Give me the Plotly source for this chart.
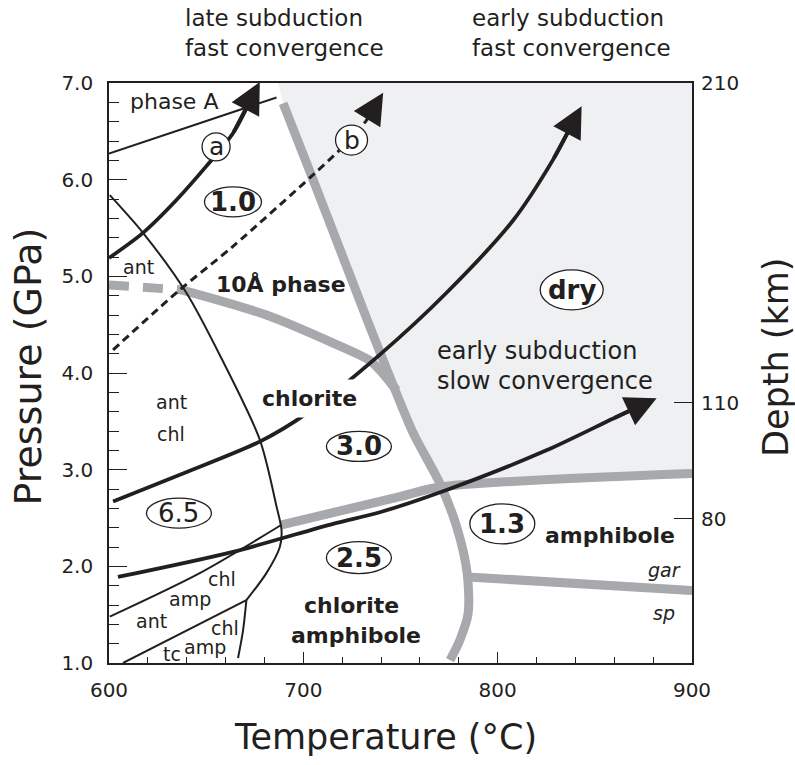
import plotly.graph_objects as go

# ---------------- data ----------------
x_ticks = [600, 700, 800, 900]
y_ticks = [1.0, 2.0, 3.0, 4.0, 5.0, 6.0, 7.0]
depth_tick_P = [7.0, 3.69, 2.49]
depth_tick_text = ["210", "110", "80"]

# thin black phase boundaries
phaseA_T = [600.0, 686.2]
phaseA_P = [6.27, 6.85]
antchl_T = [600.4, 617.5, 639.8, 657.9, 677.6, 686.2, 688.8, 687.9, 681.0, 670.7]
antchl_P = [5.84, 5.45, 4.83, 4.15, 3.31, 2.62, 2.37, 2.20, 1.93, 1.65]
vert_T = [670.7, 669.0, 666.4]
vert_P = [1.65, 1.34, 1.05]
tc_T = [607.2, 670.7]
tc_P = [1.00, 1.65]
amp_T = [600.4, 646.7, 688.8]
amp_P = [1.48, 1.93, 2.43]

# thick grey boundaries
g10A_dash_T = [600.0, 637.3]
g10A_dash_P = [4.91, 4.86]
g10A_T = [637.3, 681.0, 715.3, 734.2, 739.4, 748.0]
g10A_P = [4.86, 4.60, 4.31, 4.13, 4.03, 3.82]
gdry_T = [689.6, 705.0, 734.2, 744.5, 756.5, 770.2, 778.9, 784.3, 784.8, 780.6, 775.5]
gdry_P = [6.79, 6.00, 4.48, 3.96, 3.38, 2.86, 2.41, 1.93, 1.51, 1.24, 1.03]
gchl_T = [688.8, 749.7, 770.2, 900.0]
gchl_P = [2.43, 2.72, 2.82, 2.96]
ggar_T = [784.8, 900.0]
ggar_P = [1.89, 1.75]

# dry field (shaded)
dry_T = [686.9, 900.0, 900.0, 770.2, 756.5, 744.5, 734.2, 705.0, 689.6]
dry_P = [7.00, 7.00, 2.96, 2.84, 3.38, 3.96, 4.48, 6.00, 6.79]

# P-T paths (last point = arrow tip)
pathA_T = [600.0, 617.5, 634.7, 650.1, 663.8, 677.6]
pathA_P = [5.19, 5.45, 5.79, 6.14, 6.48, 7.01]
pathB_T = [602.1, 636.4, 663.8, 705.0, 718.8, 732.0, 741.1]
pathB_P = [4.24, 4.86, 5.31, 6.05, 6.31, 6.60, 6.90]
pathC_T = [602.1, 638.1, 677.6, 701.6, 739.4, 773.7, 808.0, 828.6, 843.2]
pathC_P = [2.67, 2.96, 3.29, 3.58, 4.19, 4.83, 5.58, 6.21, 6.76]
pathD_T = [604.6, 663.8, 715.3, 739.4, 773.7, 825.1, 859.5, 881.8]
pathD_P = [1.89, 2.15, 2.44, 2.56, 2.79, 3.20, 3.53, 3.74]

# labels
small_lbl = ["ant", "ant", "chl", "chl", "amp", "ant", "chl", "amp", "tc"]
small_T = [615.3, 632.1, 632.1, 657.9, 641.5, 621.8, 659.6, 649.3, 632.5]
small_P = [5.10, 3.70, 3.37, 1.87, 1.66, 1.43, 1.36, 1.17, 1.09]

bold_lbl = ["10Å phase", "amphibole", "chlorite", "amphibole"]
bold_T = [688.3, 857.7, 724.7, 727.3]
bold_P = [4.92, 2.32, 1.59, 1.28]

chl_lbl = "chlorite"
chl_T, chl_P = 703.3, 3.74

ell_lbl = ["1.0", "3.0", "6.5", "2.5", "1.3", "dry"]
ell_T = [663.8, 728.6, 636.0, 728.6, 802.4, 838.1]
ell_P = [5.77, 3.24, 2.55, 2.09, 2.44, 4.86]
ell_bold = [True, True, False, True, True, True]

circ_lbl = ["a", "b"]
circ_T = [655.1, 724.8]
circ_P = [6.34, 6.41]

ital_lbl = ["gar", "sp"]
ital_T = [885.6, 885.6]
ital_P = [1.96, 1.52]

phaseA_lbl, phaseA_lT, phaseA_lP = "phase A", 633.4, 6.81
slow_lbl = ["early subduction", "slow convergence"]
slow_T = 767.7
slow_P = [4.23, 3.92]

top_left = "late subduction<br>fast convergence"
top_right = "early subduction<br>fast convergence"

# ---------------- style ----------------
INK = "#231f20"
GREY = "#a7a9ac"
SHADE = "#eef0f2"
FONT = "DejaVu Sans"
ell_w = [57, 65, 65, 65, 65, 63]
ell_h = [30, 30, 30, 32, 40, 40]
circ_w = [28, 32]
circ_h = [28, 30]
THICK, THIN, DASHW, GW = 3.8, 2.0, 3.0, 9
HEAD = 6.2          # arrow-head scale (pixels per head unit)

fig = go.Figure()


def add_line(T, P, color, width, dash="solid", shape="spline"):
    fig.add_trace(go.Scatter(x=T, y=P, mode="lines",
                             line=dict(color=color, width=width, dash=dash,
                                       shape=shape, smoothing=0.8),
                             hoverinfo="skip", showlegend=False))


def shorten(T, P, frac=0.3):
    """path ending a little before its tip, so the arrow head hides the end"""
    t_end = T[-1] - frac * (T[-1] - T[-2])
    p_end = P[-1] - frac * (P[-1] - P[-2])
    return T[:-1] + [t_end], P[:-1] + [p_end]


# shaded dry field
fig.add_trace(go.Scatter(x=dry_T, y=dry_P, mode="lines", fill="toself",
                         fillcolor=SHADE, line=dict(width=0, color=SHADE),
                         hoverinfo="skip", showlegend=False))

# grey boundaries
add_line(g10A_dash_T, g10A_dash_P, GREY, GW, dash="20px,14px", shape="linear")
add_line(g10A_T, g10A_P, GREY, GW)
add_line(gdry_T, gdry_P, GREY, GW)
add_line(gchl_T, gchl_P, GREY, GW)
add_line(ggar_T, ggar_P, GREY, GW, shape="linear")

# thin black boundaries
add_line(phaseA_T, phaseA_P, INK, THIN, shape="linear")
add_line(antchl_T, antchl_P, INK, THIN)
add_line(vert_T, vert_P, INK, THIN)
add_line(tc_T, tc_P, INK, THIN, shape="linear")
add_line(amp_T, amp_P, INK, THIN)

# P-T paths
for T, P, w, dash in [(pathA_T, pathA_P, THICK, "solid"),
                      (pathB_T, pathB_P, DASHW, "8px,5px"),
                      (pathC_T, pathC_P, THICK, "solid"),
                      (pathD_T, pathD_P, THICK, "solid")]:
    tt, pp = shorten(T, P)
    add_line(tt, pp, INK, w, dash=dash)

# dummy trace to register the depth axis
fig.add_trace(go.Scatter(x=[None], y=[None], yaxis="y2", showlegend=False,
                         hoverinfo="skip"))

annotations = []
for T, P, w in [(pathA_T, pathA_P, THICK), (pathB_T, pathB_P, DASHW),
                (pathC_T, pathC_P, THICK), (pathD_T, pathD_P, THICK)]:
    annotations.append(dict(x=T[-1], y=P[-1], ax=T[-2], ay=P[-2],
                            xref="x", yref="y", axref="x", ayref="y",
                            text="", showarrow=True, arrowhead=2,
                            arrowsize=HEAD / w, arrowwidth=w, arrowcolor=INK))

shapes = []
for t, p, w, h in zip(ell_T + circ_T, ell_P + circ_P, ell_w + circ_w, ell_h + circ_h):
    shapes.append(dict(type="circle", xref="x", yref="y",
                       xsizemode="pixel", ysizemode="pixel",
                       xanchor=t, yanchor=p, x0=-w / 2, x1=w / 2,
                       y0=-h / 2, y1=h / 2,
                       line=dict(color=INK, width=1.3), fillcolor="white",
                       layer="above"))


def txt(text, x, y, size, bold=False, italic=False, **kw):
    s = text
    if bold:
        s = "<b>" + s + "</b>"
    if italic:
        s = "<i>" + s + "</i>"
    d = dict(x=x, y=y, xref="x", yref="y", text=s, showarrow=False,
             font=dict(family=FONT, size=size, color=INK))
    d.update(kw)
    annotations.append(d)


for t, x, y in zip(small_lbl, small_T, small_P):
    txt(t, x, y, 19)
for t, x, y in zip(bold_lbl, bold_T, bold_P):
    txt(t, x, y, 22, bold=True)
txt(chl_lbl, chl_T, chl_P, 22, bold=True, bgcolor="white", borderpad=6)
for t, x, y, b in zip(ell_lbl, ell_T, ell_P, ell_bold):
    txt(t, x, y, 26, bold=b)
for t, x, y in zip(circ_lbl, circ_T, circ_P):
    txt(t, x, y, 25)
for t, x, y in zip(ital_lbl, ital_T, ital_P):
    txt(t, x, y, 19, italic=True)
txt(phaseA_lbl, phaseA_lT, phaseA_lP, 22)
for t, y in zip(slow_lbl, slow_P):
    txt(t, slow_T, y, 24, xanchor="left")


# top captions and axis titles (paper coordinates)
def ptxt(text, x, y, size, **kw):
    d = dict(x=x, y=y, xref="paper", yref="paper", text=text, showarrow=False,
             font=dict(family=FONT, size=size, color=INK))
    d.update(kw)
    annotations.append(d)


ptxt(top_left, 0.127, 1, 23, xanchor="left", yanchor="middle", yshift=50,
     align="left")
ptxt(top_right, 0.619, 1, 23, xanchor="left", yanchor="middle", yshift=50,
     align="left")
ptxt("Temperature (°C)", 0.475, 0, 35, yanchor="middle", yshift=-74)
ptxt("Pressure (GPa)", 0, 0.511, 38, textangle=-90, xanchor="center",
     yanchor="middle", xshift=-81)
ptxt("Depth (km)", 1, 0.526, 35, textangle=-90, xanchor="center",
     yanchor="middle", xshift=84)

fig.update_layout(
    width=795, height=765,
    margin=dict(l=109, r=103, t=83, b=102),
    paper_bgcolor="white", plot_bgcolor="white",
    showlegend=False,
    font=dict(family=FONT, color=INK),
    xaxis=dict(range=[600, 900], tickvals=x_ticks, ticks="inside", ticklen=11,
               tickwidth=1.4, tickcolor=INK, showline=True, linecolor=INK,
               linewidth=1.6, mirror=True, showgrid=False, zeroline=False,
               tickfont=dict(family=FONT, size=20, color=INK),
               ticklabelstandoff=8,
               minor=dict(dtick=20, ticks="inside", ticklen=6, tickwidth=1.3,
                          tickcolor=INK, showgrid=False)),
    yaxis=dict(range=[1, 7], tickvals=y_ticks, tickformat=".1f",
               ticks="inside", ticklen=18, tickwidth=1.4, tickcolor=INK,
               showline=True, linecolor=INK, linewidth=1.6, mirror=True,
               showgrid=False, zeroline=False,
               tickfont=dict(family=FONT, size=20, color=INK),
               ticklabelstandoff=10,
               minor=dict(dtick=0.2, ticks="inside", ticklen=10, tickwidth=1.3,
                          tickcolor=INK, showgrid=False)),
    yaxis2=dict(range=[1, 7], overlaying="y", side="right",
                tickvals=depth_tick_P, ticktext=depth_tick_text,
                ticks="inside", ticklen=18, tickwidth=1.4, tickcolor=INK,
                showline=False, showgrid=False, zeroline=False,
                tickfont=dict(family=FONT, size=20, color=INK),
                ticklabelstandoff=8),
    shapes=shapes,
    annotations=annotations,
)

fig.write_html("out.html")
